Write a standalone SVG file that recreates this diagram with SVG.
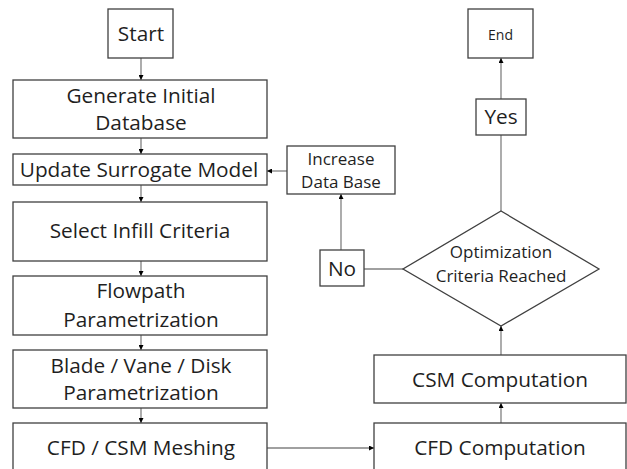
<svg xmlns="http://www.w3.org/2000/svg" width="627" height="469" viewBox="0 0 627 469">
<style>
.box{fill:#fff;stroke:#404040;stroke-width:1.3}
.t{font-family:"Open Sans","Liberation Sans",sans-serif;fill:#1f1f1f;text-anchor:middle}
.m{font-size:20.8px}
.s{font-size:17px}
.c{stroke:#808080;stroke-width:1.3;fill:none}
</style>
<defs>
<marker id="ah" viewBox="0 0 10 10" refX="10" refY="5" markerWidth="5" markerHeight="5" orient="auto" markerUnits="userSpaceOnUse">
<path d="M0,0 L10,5 L0,10 z" fill="#000"/>
</marker>
</defs>
<rect width="627" height="469" fill="#fff"/>
<g id="connectors">
<line class="c" x1="141" y1="58" x2="141" y2="80" marker-end="url(#ah)"/>
<line class="c" x1="141" y1="138" x2="141" y2="154" marker-end="url(#ah)"/>
<line class="c" x1="141" y1="185" x2="141" y2="202" marker-end="url(#ah)"/>
<line class="c" x1="141" y1="261" x2="141" y2="276" marker-end="url(#ah)"/>
<line class="c" x1="141" y1="335" x2="141" y2="350" marker-end="url(#ah)"/>
<line class="c" x1="141" y1="408" x2="141" y2="423" marker-end="url(#ah)"/>
<line class="c" x1="267" y1="448" x2="374" y2="448" marker-end="url(#ah)"/>
<line class="c" x1="501" y1="423" x2="501" y2="403" marker-end="url(#ah)"/>
<line class="c" x1="501" y1="355" x2="501" y2="326" marker-end="url(#ah)"/>
<line class="c" x1="501" y1="211" x2="501" y2="135"/>
<line class="c" x1="501" y1="99" x2="501" y2="58" marker-end="url(#ah)"/>
<line class="c" x1="403" y1="269" x2="364" y2="269"/>
<line class="c" x1="341" y1="250" x2="341" y2="194" marker-end="url(#ah)"/>
<line class="c" x1="287" y1="171" x2="267" y2="171" marker-end="url(#ah)"/>
</g>
<g id="start"><rect class="box" x="108" y="9" width="65" height="49"/><text class="t m" x="141" y="41">Start</text></g>
<g id="generate"><rect class="box" x="13" y="80" width="254" height="58"/><text class="t m" x="141" y="103">Generate Initial</text><text class="t m" x="141" y="130">Database</text></g>
<g id="update"><rect class="box" x="13" y="154" width="254" height="31"/><text class="t m" x="139" y="177">Update Surrogate Model</text></g>
<g id="select"><rect class="box" x="13" y="202" width="254" height="59"/><text class="t m" x="140" y="238">Select Infill Criteria</text></g>
<g id="flowpath"><rect class="box" x="13" y="276" width="254" height="59"/><text class="t m" x="141" y="298">Flowpath</text><text class="t m" x="141" y="327">Parametrization</text></g>
<g id="blade"><rect class="box" x="13" y="350" width="254" height="58"/><text class="t m" x="141" y="373">Blade / Vane / Disk</text><text class="t m" x="141" y="400">Parametrization</text></g>
<g id="meshing"><rect class="box" x="13" y="423" width="254" height="60"/><text class="t m" x="141" y="455">CFD / CSM Meshing</text></g>
<g id="end"><rect class="box" x="468" y="9" width="65" height="49"/><text class="t" style="font-size:14px" x="500.5" y="40">End</text></g>
<g id="yes"><rect class="box" x="476" y="99" width="50" height="36"/><text class="t m" x="501" y="124">Yes</text></g>
<g id="increase"><rect class="box" x="287" y="146" width="108" height="48"/><text class="t s" x="341" y="165">Increase</text><text class="t s" x="341" y="188">Data Base</text></g>
<g id="decision"><polygon class="box" points="501,211 599,269 501,326 403,269"/><text class="t s" x="501" y="258">Optimization</text><text class="t s" x="501" y="282">Criteria Reached</text></g>
<g id="no"><rect class="box" x="320" y="250" width="44" height="36"/><text class="t m" x="342" y="276">No</text></g>
<g id="csm"><rect class="box" x="374" y="355" width="252" height="48"/><text class="t m" x="500" y="387">CSM Computation</text></g>
<g id="cfd"><rect class="box" x="374" y="423" width="252" height="60"/><text class="t m" x="500" y="455">CFD Computation</text></g>
</svg>
